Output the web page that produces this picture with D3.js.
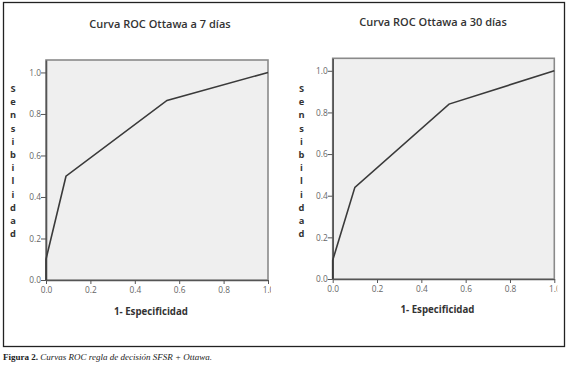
<!DOCTYPE html>
<html>
<head>
<meta charset="utf-8">
<script src="https://cdn.jsdelivr.net/npm/d3@7"></script>
<style>
html,body{margin:0;padding:0;background:#fff;}
svg{display:block;}
</style>
</head>
<body>
<svg id="chart" width="570" height="372"></svg>
<script>
// ---- data ----
const titles = ["Curva ROC Ottawa a 7 días", "Curva ROC Ottawa a 30 días"];
const fpr7  = [0, 0, 0.09, 0.545, 1];
const tpr7  = [0, 0.10, 0.50, 0.865, 1];
const fpr30 = [0, 0, 0.10, 0.525, 1];
const tpr30 = [0, 0.09, 0.44, 0.84, 1];
const tickValues = [0, 0.2, 0.4, 0.6, 0.8, 1.0];
const xLabel = "1- Especificidad";
const yLabel = "Sensibilidad";
const captionBold = "Figura 2.";
const captionItalic = " Curvas ROC regla de decisión SFSR + Ottawa.";

const svg = d3.select("#chart");

// outer frame
svg.append("rect").attr("x",3.5).attr("y",2.5).attr("width",561).attr("height",344)
  .attr("fill","none").attr("stroke","#222").attr("stroke-width",1.3);

const panels = [
  {title: titles[0], fpr: fpr7, tpr: tpr7, x0: 46, x1: 268, yTop: 60, yBot: 280, titleX: 160, titleY: 28, yLabX: 13, xLabY: 315},
  {title: titles[1], fpr: fpr30, tpr: tpr30, x0: 332.7, x1: 554.3, yTop: 58.3, yBot: 279, titleX: 433, titleY: 26, yLabX: 301.5, xLabY: 313}
];

panels.forEach((p, i) => {
  const g = svg.append("g");
  const x = d3.scaleLinear().domain([0, 1]).range([p.x0, p.x1]);
  const y = d3.scaleLinear().domain([0, 1.06]).range([p.yBot, p.yTop]);

  // plot background
  g.append("rect").attr("x", p.x0).attr("y", p.yTop)
    .attr("width", p.x1 - p.x0).attr("height", p.yBot - p.yTop)
    .attr("fill", "#efefef").attr("stroke", "#8a8a8a").attr("stroke-width", 1.6);

  // clip for x tick labels (last label cut off as in the original)
  const clipId = "clip" + i;
  svg.append("clipPath").attr("id", clipId).append("rect")
    .attr("x", 0).attr("y", 0).attr("width", p.x1 + 3).attr("height", 372);

  // axes
  const xAxis = d3.axisBottom(x).tickValues(tickValues).tickFormat(d3.format(".1f")).tickSize(4).tickSizeOuter(0);
  const yAxis = d3.axisLeft(y).tickValues(tickValues).tickFormat(d3.format(".1f")).tickSize(5).tickSizeOuter(0);

  const gx = g.append("g").attr("transform", `translate(0,${p.yBot})`).attr("clip-path", `url(#${clipId})`).call(xAxis);
  const gy = g.append("g").attr("transform", `translate(${p.x0},0)`).call(yAxis);
  [gx, gy].forEach(a => {
    a.select(".domain").attr("stroke", "#555").attr("stroke-width", 1.6);
    a.selectAll(".tick line").attr("stroke", "#555").attr("stroke-width", 1);
    a.selectAll(".tick text").attr("fill", "#666").style("font-family", "'Open Sans', sans-serif").style("font-size", "8.3px");
  });
  gx.selectAll(".tick text").attr("dy", "0.9em").attr("y", 5.5);
  gy.selectAll(".tick text").attr("x", -5);

  // ROC curve
  const pts = p.fpr.map((d, k) => [d, p.tpr[k]]);
  g.append("path").datum(pts)
    .attr("d", d3.line().x(d => x(d[0])).y(d => y(d[1])))
    .attr("fill", "none").attr("stroke", "#3a3a3a").attr("stroke-width", 1.6);

  // title
  g.append("text").attr("x", p.titleX).attr("y", p.titleY).attr("text-anchor", "middle")
    .style("font-family", "'Open Sans', sans-serif").style("font-size", "11px").style("font-weight", 600)
    .attr("fill", "#333").text(p.title);

  // x label
  g.append("text").attr("x", (p.x0 + p.x1) / 2 - 6).attr("y", p.xLabY).attr("text-anchor", "middle")
    .style("font-family", "'Open Sans', sans-serif").style("font-size", "9.7px").style("font-weight", 700)
    .attr("fill", "#333").text(xLabel);

  // y label stacked letters
  g.append("g").selectAll("text").data(yLabel.split("")).join("text")
    .attr("x", p.yLabX).attr("y", (d, k) => 92 + k * 13.2).attr("text-anchor", "middle")
    .style("font-family", "'Open Sans', sans-serif").style("font-size", "9.3px").style("font-weight", 700)
    .attr("fill", "#333").text(d => d);
});

// caption
const cap = svg.append("text").attr("x", 3).attr("y", 360)
  .style("font-family", "'Liberation Serif', serif").style("font-size", "9px").attr("fill", "#222");
cap.append("tspan").style("font-weight", 700).text(captionBold);
cap.append("tspan").style("font-style", "italic").text(captionItalic);
</script>
</body>
</html>
